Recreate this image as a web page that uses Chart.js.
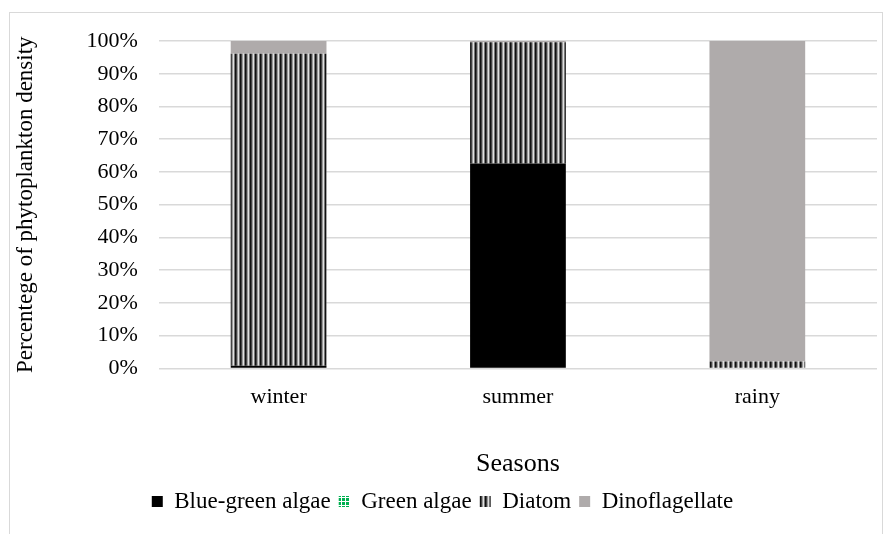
<!DOCTYPE html>
<html>
<head>
<meta charset="utf-8">
<script src="https://cdn.jsdelivr.net/npm/chart.js@4"></script>
<style>
  body { margin: 0; background: #fff; }
  #frame { position: absolute; left: 9px; top: 12px; width: 872px; height: 540px; border: 1px solid #d9d9d9; }
  #wrap { position: absolute; left: 0; top: 0; width: 891px; height: 534px; }
</style>
</head>
<body>
<div id="frame"></div>
<div id="wrap"><canvas id="myChart"></canvas></div>
<script>
//============== DATA ===============
const seasons = ['winter', 'summer', 'rainy'];
const blueGreen = [0.8, 62.6, 0];
const greenAlgae = [0, 0, 0.2];
const diatom = [95.3, 37.0, 1.9];
const dinoflagellate = [3.9, 0.4, 97.9];
const yTicks = ['0%', '10%', '20%', '30%', '40%', '50%', '60%', '70%', '80%', '90%', '100%'];

//============== PATTERNS ===============
function stripePattern() {
  const c = document.createElement('canvas');
  c.width = 5; c.height = 4;
  const g = c.getContext('2d');
  const cols = ['#111', '#444', '#999', '#e0e0e0', '#777'];
  cols.forEach((col, i) => { g.fillStyle = col; g.fillRect(i, 0, 1, 4); });
  return g.createPattern(c, 'repeat');
}
function greenPattern() {
  const c = document.createElement('canvas');
  c.width = 4; c.height = 4;
  const g = c.getContext('2d');
  g.fillStyle = '#00b050';
  g.fillRect(0, 0, 4, 4);
  g.fillStyle = '#ffffff';
  g.fillRect(0, 1, 4, 1);
  g.fillRect(1, 0, 1, 4);
  return g.createPattern(c, 'repeat');
}

const font = 'Liberation Serif, Times New Roman, serif';

const myChart = document.getElementById('myChart');
new Chart(myChart, {
  type: 'bar',
  data: {
    labels: seasons,
    datasets: [
      { label: 'Blue-green algae', data: blueGreen, backgroundColor: '#000000' },
      { label: 'Green algae', data: greenAlgae, backgroundColor: greenPattern() },
      { label: 'Diatom', data: diatom, backgroundColor: stripePattern() },
      { label: 'Dinoflagellate', data: dinoflagellate, backgroundColor: '#afabab' }
    ]
  },
  options: {
    responsive: true,
    maintainAspectRatio: false,
    animation: false,
    datasets: { bar: { categoryPercentage: 1, barPercentage: 0.4 } },
    layout: { padding: { left: 8, right: 14, top: 41, bottom: 11 } },
    plugins: {
      tooltip: { enabled: false },
      legend: {
        position: 'bottom',
        labels: {
          font: { family: font, size: 23 },
          color: '#000',
          boxWidth: 11,
          boxHeight: 11,
          padding: 8
        }
      }
    },
    scales: {
      x: {
        stacked: true,
        grid: { display: false },
        border: { display: false },
        ticks: { font: { family: font, size: 22 }, color: '#000', padding: 8 },
        title: { display: true, text: 'Seasons', font: { family: font, size: 26 }, color: '#000', padding: { top: 30, bottom: 2 } }
      },
      y: {
        stacked: true,
        min: 0,
        max: 100,
        grid: { color: '#d9d9d9', lineWidth: 1.5, drawTicks: false },
        border: { display: false },
        ticks: {
          stepSize: 10,
          font: { family: font, size: 22 },
          color: '#000',
          padding: 21,
          callback: (v, i) => yTicks[i]
        },
        title: { display: true, text: 'Percentege of phytoplankton density', font: { family: font, size: 23 }, color: '#000', padding: { bottom: 26 } }
      }
    }
  }
});
</script>
</body>
</html>
